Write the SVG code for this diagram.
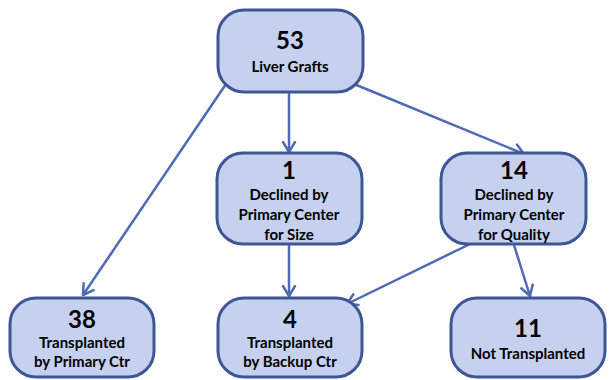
<svg xmlns="http://www.w3.org/2000/svg" width="609" height="380" viewBox="0 0 609 380">
  <defs>
    <style>
      .box { fill: #C5D1EE; stroke: #3F5695; stroke-width: 3; }
      .num { font-family: Lato, "Liberation Sans", sans-serif; font-weight: bold; font-size: 24px; fill: #000; text-anchor: middle; }
      .lbl { font-family: Lato, "Liberation Sans", sans-serif; font-weight: bold; font-size: 15px; fill: #000; text-anchor: middle; }
      .edge { stroke: #4F6AB4; stroke-width: 2.5; fill: none; marker-end: url(#arr); }
    </style>
    <marker id="arr" markerUnits="userSpaceOnUse" markerWidth="16" markerHeight="16" viewBox="-12 -8 14 16" refX="0" refY="0" orient="auto">
      <path d="M-10,-6 L0,0 L-10,6" fill="none" stroke="#4F6AB4" stroke-width="2.5" stroke-linecap="round" stroke-linejoin="round"/>
    </marker>
  </defs>
  <rect width="609" height="380" fill="#FFFFFF"/>
  <g id="connectors">
    <line class="edge" x1="226" y1="84" x2="83" y2="295"/>
    <line class="edge" x1="289" y1="92" x2="289" y2="152"/>
    <line class="edge" x1="354" y1="84" x2="524" y2="154"/>
    <line class="edge" x1="289" y1="245" x2="289" y2="296"/>
    <line class="edge" x1="470" y1="244" x2="347" y2="304"/>
    <line class="edge" x1="514" y1="245" x2="530" y2="296"/>
  </g>
  <g id="node-53">
    <rect class="box" x="218" y="10" width="145" height="82" rx="26"/>
    <text class="num" x="290" y="49">53</text>
    <text class="lbl" x="290" y="72">Liver Grafts</text>
  </g>
  <g id="node-1">
    <rect class="box" x="217" y="153" width="145" height="91" rx="26"/>
    <text class="num" x="289" y="179">1</text>
    <text class="lbl" x="289" y="200">Declined by</text>
    <text class="lbl" x="289" y="220">Primary Center</text>
    <text class="lbl" x="289" y="240">for Size</text>
  </g>
  <g id="node-14">
    <rect class="box" x="441" y="153" width="145" height="91" rx="26"/>
    <text class="num" x="514" y="179">14</text>
    <text class="lbl" x="514" y="200">Declined by</text>
    <text class="lbl" x="514" y="220">Primary Center</text>
    <text class="lbl" x="514" y="240">for Quality</text>
  </g>
  <g id="node-38">
    <rect class="box" x="10" y="298" width="144" height="79" rx="26"/>
    <text class="num" x="82" y="328">38</text>
    <text class="lbl" x="82" y="348">Transplanted</text>
    <text class="lbl" x="82" y="367">by Primary Ctr</text>
  </g>
  <g id="node-4">
    <rect class="box" x="218" y="298" width="144" height="79" rx="26"/>
    <text class="num" x="290" y="328">4</text>
    <text class="lbl" x="290" y="348">Transplanted</text>
    <text class="lbl" x="290" y="367">by Backup Ctr</text>
  </g>
  <g id="node-11">
    <rect class="box" x="451" y="298" width="154" height="79" rx="26"/>
    <text class="num" x="528" y="337">11</text>
    <text class="lbl" x="528" y="359">Not Transplanted</text>
  </g>
</svg>
